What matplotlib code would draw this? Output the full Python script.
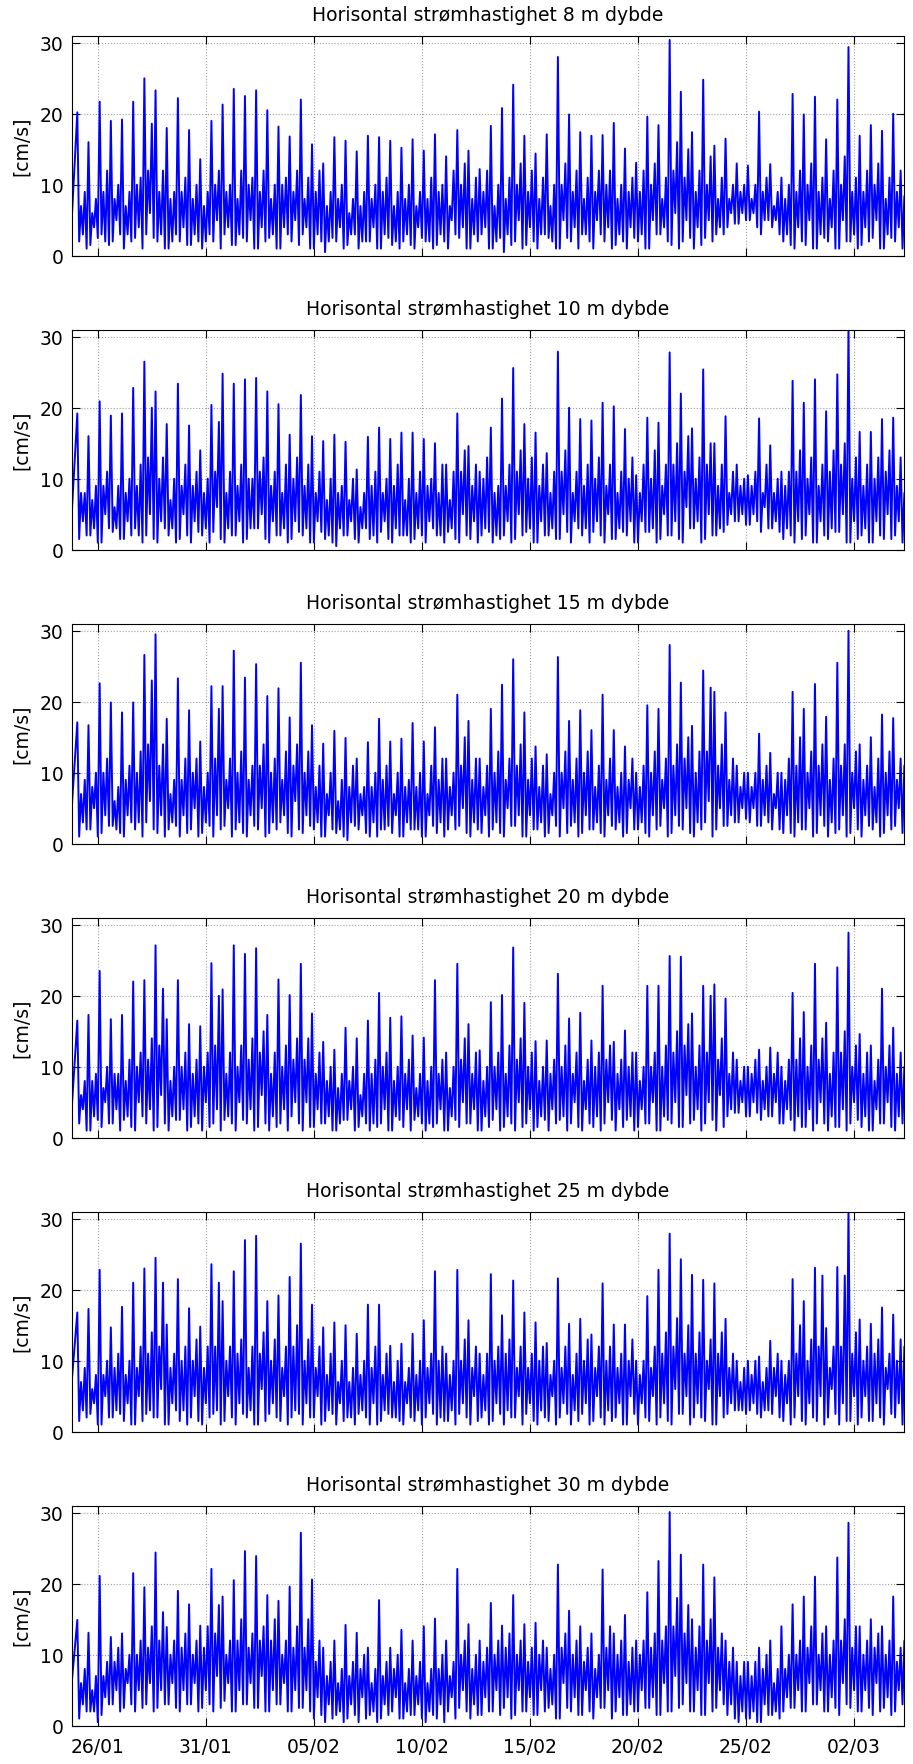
import matplotlib
matplotlib.use('Agg')
import matplotlib.pyplot as plt
from datetime import datetime, timedelta

# ---------------- data ----------------
DEPTHS = [8, 10, 15, 20, 25, 30]
T_START = datetime(2013, 1, 24, 19, 6)
T_END = datetime(2013, 3, 4, 8, 0)
FIRST_PEAK = datetime(2013, 1, 25, 1, 20)
CYCLE_HOURS = 12.42
XTICK_DATES = [datetime(2013, 1, 26), datetime(2013, 1, 31), datetime(2013, 2, 5),
               datetime(2013, 2, 10), datetime(2013, 2, 15), datetime(2013, 2, 20),
               datetime(2013, 2, 25), datetime(2013, 3, 2)]
XTICK_LABELS = ['26/01', '31/01', '05/02', '10/02', '15/02', '20/02', '25/02', '02/03']
YTICKS = [0, 10, 20, 30]
START_VALUES = [5, 5, 5, 4, 7, 6]

# main tidal peaks per cycle
P1 = [20.2, 16.0, 21.7, 19.0, 19.2, 21.7, 25.0, 23.3, 18.0, 22.2,
      17.7, 13.6, 19.0, 21.3, 23.5, 22.5, 23.3, 20.5, 18.2, 16.8,
      22.0, 15.7, 13.0, 16.7, 16.2, 14.7, 16.9, 16.7, 16.2, 15.2,
      16.4, 14.8, 17.1, 14.0, 17.7, 14.8, 12.2, 18.3, 20.8, 24.1,
      16.9, 14.4, 17.1, 28.0, 19.9, 17.4, 16.9, 17.0, 18.7, 15.1,
      13.1, 19.6, 18.4, 30.4, 23.1, 17.4, 24.8, 15.5, 16.5, 13.0,
      12.7, 20.3, 12.9, 11.0, 22.8, 19.9, 22.4, 16.4, 22.0, 29.4,
      16.9, 18.4, 17.6, 20.0, 8.4]
P2 = [19.2, 16.0, 20.9, 18.9, 19.2, 22.8, 26.5, 22.3, 17.7, 23.4,
      17.5, 14.0, 20.4, 24.8, 23.4, 24.0, 24.2, 22.3, 20.5, 16.2,
      21.8, 16.0, 15.3, 16.2, 15.2, 11.3, 15.9, 17.2, 15.6, 16.5,
      16.5, 15.6, 15.0, 12.0, 19.2, 14.6, 11.0, 17.2, 21.3, 25.6,
      17.7, 16.5, 13.6, 27.9, 20.0, 18.4, 18.2, 20.7, 20.2, 17.0,
      10.5, 18.6, 17.9, 27.8, 22.0, 17.1, 25.4, 15.0, 18.8, 12.0,
      10.5, 18.5, 14.7, 11.0, 23.8, 20.7, 24.0, 19.5, 24.7, 31.5,
      16.6, 16.6, 18.4, 18.6, 8.0]
P3 = [17.1, 16.7, 22.6, 19.9, 18.5, 19.9, 26.6, 29.5, 17.6, 23.3,
      18.8, 14.4, 22.2, 22.2, 27.2, 23.4, 25.3, 20.8, 21.9, 17.8,
      25.5, 16.7, 14.1, 15.9, 14.9, 12.0, 14.3, 17.6, 14.4, 14.8,
      17.0, 14.4, 16.4, 12.0, 21.0, 17.3, 12.0, 19.0, 22.4, 26.0,
      18.5, 13.7, 12.6, 26.3, 17.3, 18.8, 16.0, 21.0, 16.0, 13.7,
      10.0, 19.5, 19.0, 28.0, 22.7, 16.6, 24.4, 21.4, 18.5, 11.0,
      10.0, 15.5, 12.8, 10.0, 21.4, 19.0, 22.5, 17.9, 25.5, 30.0,
      14.0, 15.0, 18.2, 17.7, 11.0]
P4 = [16.5, 17.3, 23.5, 16.7, 17.3, 22.0, 22.2, 27.1, 16.7, 22.2,
      16.0, 15.7, 24.6, 20.9, 27.1, 25.9, 26.7, 17.3, 22.3, 20.1,
      24.5, 17.5, 13.5, 12.4, 15.5, 14.0, 16.5, 20.4, 16.9, 17.1,
      14.4, 14.1, 22.2, 12.0, 24.5, 16.0, 12.3, 19.1, 20.1, 26.8,
      19.0, 13.6, 13.7, 23.1, 16.8, 17.6, 13.7, 21.4, 13.5, 15.1,
      12.0, 21.4, 21.4, 25.6, 25.5, 17.5, 21.4, 21.6, 19.6, 11.0,
      10.0, 12.4, 12.7, 10.0, 20.4, 17.7, 24.5, 16.2, 24.0, 28.9,
      14.6, 13.0, 21.0, 15.5, 10.0]
P5 = [16.8, 17.3, 22.8, 14.7, 17.6, 21.0, 23.0, 24.5, 15.1, 21.5,
      17.4, 14.8, 23.6, 18.4, 22.6, 27.0, 27.6, 18.4, 19.2, 21.8,
      26.5, 17.9, 14.7, 15.4, 15.0, 13.8, 17.9, 17.9, 12.1, 12.4,
      13.8, 15.7, 22.6, 11.0, 22.8, 15.7, 11.0, 22.2, 16.4, 21.3,
      16.8, 15.4, 12.5, 21.6, 15.2, 15.9, 13.7, 20.9, 15.1, 15.1,
      10.0, 19.1, 22.8, 27.9, 24.3, 22.1, 21.4, 20.9, 15.9, 10.0,
      10.0, 10.6, 12.8, 10.0, 21.5, 18.4, 23.1, 14.6, 23.2, 31.5,
      15.8, 15.2, 17.5, 16.5, 12.0]
P6 = [14.9, 13.1, 21.1, 12.5, 13.0, 21.5, 19.5, 24.4, 13.9, 19.0,
      17.1, 14.1, 22.1, 18.2, 20.5, 24.6, 23.9, 18.4, 17.6, 19.6,
      27.2, 20.6, 11.0, 12.0, 14.2, 13.1, 11.0, 17.7, 11.0, 13.5,
      12.0, 14.0, 15.1, 12.0, 22.1, 14.3, 12.0, 17.3, 14.1, 18.4,
      14.3, 14.5, 11.0, 22.7, 16.2, 14.0, 13.0, 22.0, 13.0, 15.6,
      12.0, 18.8, 23.2, 30.1, 24.1, 15.0, 22.7, 20.9, 12.0, 9.0,
      9.0, 11.0, 12.0, 14.0, 17.1, 18.2, 21.0, 14.0, 23.7, 28.6,
      14.0, 15.0, 14.0, 18.2, 12.0]

# secondary peaks per cycle
S1 = [9, 8, 12, 10, 9, 11, 18.6, 12, 9, 11,
      10, 9, 12, 10, 12, 11, 12, 10, 11, 12,
      11, 12, 9, 10, 8, 9, 10, 11, 9, 10,
      9, 11, 10, 12, 13, 11, 12, 10, 11, 13,
      12, 11, 10, 13, 12, 11, 12, 12, 10, 11,
      12, 13, 11, 16, 15, 12, 14, 11, 10, 10,
      10, 11, 9, 10, 12, 13, 11, 12, 14, 11,
      12, 13, 11, 12, 10]
S2 = [8, 9, 11, 9, 10, 12, 20, 13, 10, 12,
      11, 10, 18, 11, 12, 10, 13, 11, 12, 13,
      12, 11, 10, 9, 10, 8, 11, 10, 12, 10,
      11, 10, 12, 11, 14, 12, 13, 9, 12, 14,
      13, 12, 11, 14, 11, 12, 13, 12, 11, 13,
      12, 14, 12, 15, 16, 13, 15, 12, 11, 10,
      11, 12, 10, 11, 14, 13, 12, 14, 15, 13,
      12, 13, 14, 13, 10]
S3 = [9, 10, 12, 8, 11, 13, 23, 14, 9, 12,
      12, 10, 19, 12, 13, 11, 14, 12, 13, 14,
      13, 11, 10, 9, 11, 8, 10, 11, 10, 9,
      10, 11, 12, 10, 15, 12, 11, 13, 12, 14,
      12, 11, 10, 13, 12, 13, 11, 12, 10, 12,
      11, 13, 12, 14, 15, 13, 22, 14, 12, 10,
      10, 11, 10, 12, 15, 13, 14, 12, 14, 13,
      11, 12, 13, 12, 11]
S4 = [8, 9, 10, 9, 11, 12, 14, 21, 10, 12,
      11, 12, 20, 12, 13, 14, 15, 12, 13, 14,
      14, 12, 10, 9, 10, 9, 11, 12, 10, 11,
      9, 10, 11, 10, 14, 12, 10, 12, 13, 14,
      12, 10, 11, 13, 12, 11, 12, 13, 11, 12,
      10, 12, 13, 15, 16, 13, 20, 14, 12, 10,
      11, 10, 12, 11, 14, 13, 14, 12, 15, 13,
      12, 11, 13, 12, 10]
S5 = [9, 8, 10, 11, 10, 12, 14, 21, 11, 12,
      13, 12, 21, 12, 13, 12, 14, 13, 12, 15,
      13, 12, 11, 10, 9, 10, 12, 11, 10, 9,
      10, 11, 12, 10, 13, 12, 11, 12, 13, 12,
      11, 12, 10, 12, 11, 13, 12, 12, 11, 13,
      10, 12, 14, 16, 15, 14, 13, 14, 11, 9,
      10, 9, 11, 10, 15, 13, 22, 12, 22, 14,
      12, 13, 11, 13, 12]
S6 = [8, 7, 9, 11, 10, 12, 14, 16, 12, 13,
      12, 14, 17, 12, 15, 13, 14, 15, 12, 14,
      15, 12, 9, 8, 9, 10, 8, 9, 10, 8,
      9, 8, 10, 9, 12, 10, 11, 12, 13, 12,
      11, 12, 10, 13, 12, 11, 10, 14, 12, 11,
      12, 13, 14, 18, 17, 14, 15, 13, 11, 9,
      9, 10, 8, 10, 12, 14, 13, 12, 15, 14,
      12, 13, 12, 11, 10]

# troughs after main peak
A1 = [2, 1.5, 3, 2, 1, 2.5, 3, 2, 1, 2,
      1.5, 1, 2, 3, 1.5, 2, 1, 2.5, 1, 2,
      3, 1, 0.5, 2, 1.5, 1, 2, 1, 1.5, 2,
      1, 2, 1.5, 1, 2.5, 1, 3, 1, 0.5, 2,
      1.5, 1, 2.5, 1, 2, 3, 1, 2, 1.5, 1,
      2, 1, 3, 1.5, 2, 1, 2.5, 3, 4, 4.5,
      5, 3, 4, 2, 1, 1.5, 1, 2, 1, 2,
      1.5, 2.5, 1, 2, 1]
A2 = [1.5, 2, 1, 2.5, 1.5, 3, 2, 1, 2, 1.5,
      1, 2, 2.5, 1, 2, 1.5, 3, 1, 2, 1.5,
      2, 1, 1.5, 0.5, 2, 1, 1.5, 2.5, 1, 2,
      1.5, 1, 2, 2.5, 1, 1.5, 2, 1, 2, 1.5,
      2.5, 1, 2, 1.5, 1, 2, 2.5, 1, 1.5, 2,
      1, 2.5, 1.5, 2, 1, 3, 1.5, 2, 3.5, 4,
      3.5, 2.5, 3, 1.5, 1, 2, 1, 1.5, 2.5, 1,
      2, 1, 1.5, 2, 1.5]
A3 = [1, 2, 1.5, 2.5, 1, 2, 3, 1.5, 2, 1,
      2, 1.5, 1, 2.5, 2, 1, 2, 1.5, 3, 1,
      1.5, 2, 1, 1.5, 0.5, 2, 1, 2, 1.5, 1,
      2, 1, 1.5, 2, 2.5, 1, 1.5, 2, 1, 2.5,
      1, 2, 1.5, 1, 2.5, 1.5, 2, 1, 2, 1.5,
      2, 1, 2.5, 1.5, 2, 1, 3, 2, 2.5, 3,
      3, 2.5, 2, 1.5, 1, 2, 1.5, 1, 2, 1.5,
      1, 2, 1.5, 2.5, 1]
A4 = [2, 1, 1.5, 2, 2.5, 1, 2, 1.5, 1, 2.5,
      1.5, 1, 2, 2.5, 1, 2, 1.5, 1, 2, 3,
      1, 1.5, 2, 1, 2.5, 1.5, 1, 2, 1, 1.5,
      2.5, 1, 2, 1, 1.5, 2, 1, 2.5, 1.5, 1,
      2, 1.5, 1, 2.5, 2, 1, 1.5, 2, 1, 2.5,
      1.5, 2, 1, 2, 1.5, 2.5, 2, 1, 3, 3.5,
      3, 2.5, 3, 2, 1, 1.5, 2, 1, 1.5, 2,
      1.5, 1, 2, 1, 2]
A5 = [1.5, 2.5, 1, 2, 1.5, 1, 2.5, 2, 1, 1.5,
      2, 1, 2.5, 1.5, 1, 2, 1, 2.5, 1.5, 2,
      1, 2, 1.5, 1, 2, 2.5, 1, 1.5, 2, 1,
      1.5, 2, 1, 1.5, 2.5, 1, 2, 1.5, 1, 2,
      2.5, 1, 1.5, 2, 1, 2.5, 1.5, 1, 2, 1,
      1, 1.5, 2, 1, 2.5, 2, 1.5, 1, 2.5, 3,
      3, 2, 2.5, 1.5, 2, 1, 1.5, 2, 1, 1.5,
      2, 1.5, 1, 2, 1.5]
A6 = [1, 2, 1.5, 3, 2.5, 2, 3, 2.5, 3, 2,
      3, 2.5, 2, 3.5, 2, 3, 2.5, 2, 3, 2,
      2.5, 1, 0.5, 1.5, 1, 0.5, 1.5, 1, 2, 1,
      1.5, 0.5, 1, 2, 2.5, 1, 1.5, 2, 2.5, 1.5,
      2, 1.5, 2.5, 1, 2, 1.5, 1, 2.5, 2, 1.5,
      2, 2.5, 1.5, 2, 3, 2, 1.5, 2.5, 1.5, 0.5,
      1, 0.5, 1.5, 2, 2.5, 2, 3, 2, 1.5, 2.5,
      2, 1.5, 2.5, 2, 3]

# mid-level wiggle after the first trough
C1 = [7, 6, 9, 8, 7, 10, 12, 9, 8, 9,
      8, 7, 10, 9, 8, 10, 9, 8, 10, 9,
      8, 9, 7, 8, 6, 7, 8, 9, 7, 8,
      7, 8, 9, 7, 10, 8, 9, 7, 8, 10,
      9, 8, 7, 10, 9, 8, 9, 10, 8, 9,
      9, 10, 8, 12, 11, 9, 10, 8, 8, 9,
      8, 9, 7, 8, 9, 10, 9, 8, 10, 9,
      9, 10, 8, 9, 7]
C2 = [8, 7, 9, 6, 8, 9, 13, 10, 7, 9,
      9, 8, 11, 8, 9, 10, 11, 9, 8, 10,
      9, 8, 7, 8, 7, 6, 9, 8, 9, 7,
      8, 9, 8, 7, 11, 9, 10, 8, 9, 11,
      10, 9, 8, 11, 8, 9, 10, 9, 8, 10,
      8, 10, 9, 12, 11, 10, 12, 9, 8, 9,
      9, 8, 8, 9, 11, 10, 9, 11, 12, 10,
      9, 10, 11, 9, 8]
C3 = [7, 8, 10, 6, 9, 10, 14, 11, 7, 9,
      10, 8, 12, 9, 10, 9, 11, 10, 9, 11,
      10, 8, 7, 6, 8, 7, 8, 9, 7, 8,
      8, 7, 9, 8, 11, 9, 8, 10, 9, 11,
      9, 8, 7, 10, 9, 10, 8, 9, 8, 9,
      8, 10, 9, 11, 12, 10, 13, 11, 9, 8,
      8, 9, 7, 9, 11, 10, 11, 9, 11, 10,
      9, 8, 10, 9, 8]
C4 = [6, 8, 7, 9, 8, 10, 11, 13, 8, 10,
      9, 10, 13, 9, 10, 11, 12, 9, 10, 11,
      11, 9, 8, 7, 8, 6, 9, 10, 8, 9,
      7, 8, 9, 7, 11, 9, 8, 10, 9, 11,
      10, 8, 9, 10, 9, 8, 10, 11, 9, 10,
      8, 10, 10, 12, 13, 10, 12, 11, 9, 8,
      9, 8, 9, 8, 11, 10, 11, 9, 12, 10,
      9, 8, 10, 9, 8]
C5 = [7, 6, 8, 9, 8, 9, 11, 12, 9, 10,
      10, 9, 12, 10, 11, 9, 11, 10, 9, 12,
      10, 9, 8, 7, 7, 8, 9, 8, 7, 7,
      8, 9, 10, 8, 10, 9, 8, 10, 11, 9,
      9, 10, 8, 9, 8, 10, 9, 10, 9, 10,
      8, 9, 11, 12, 11, 11, 10, 11, 9, 7,
      8, 7, 9, 8, 11, 10, 12, 9, 12, 11,
      10, 11, 9, 10, 9]
C6 = [6, 5, 7, 9, 8, 10, 11, 12, 10, 11,
      10, 11, 13, 10, 12, 11, 12, 12, 10, 11,
      11, 9, 7, 6, 7, 8, 6, 7, 8, 6,
      7, 6, 8, 7, 10, 8, 9, 10, 11, 10,
      9, 10, 8, 11, 10, 9, 8, 11, 10, 9,
      10, 11, 12, 14, 13, 11, 12, 11, 9, 7,
      7, 8, 6, 8, 10, 11, 10, 10, 12, 11,
      10, 11, 10, 9, 9]

# low-mid dip before the secondary peak
D1 = [3, 4, 2, 5, 3, 4, 6, 3, 2, 4,
      3, 2, 5, 4, 3, 5, 4, 3, 4, 5,
      4, 3, 2, 4, 3, 2, 4, 3, 2, 3,
      4, 2, 3, 5, 4, 3, 4, 2, 3, 5,
      4, 3, 2, 5, 4, 3, 5, 4, 3, 4,
      3, 5, 4, 6, 5, 4, 5, 4, 6, 6,
      6, 5, 5, 3, 4, 5, 3, 4, 5, 3,
      4, 5, 3, 4, 3]
D2 = [4, 3, 5, 3, 4, 2, 5, 4, 3, 5,
      4, 3, 6, 3, 4, 3, 5, 4, 3, 4,
      3, 4, 2, 3, 4, 3, 2, 4, 3, 2,
      3, 4, 2, 3, 5, 4, 3, 2, 4, 5,
      3, 4, 3, 5, 4, 3, 4, 5, 3, 4,
      4, 3, 5, 4, 6, 4, 5, 3, 5, 5,
      5, 6, 4, 3, 4, 5, 4, 3, 5, 4,
      3, 4, 5, 4, 3]
D3 = [3, 5, 4, 2, 4, 3, 6, 4, 3, 4,
      5, 3, 4, 5, 3, 4, 5, 3, 4, 6,
      4, 3, 4, 2, 3, 4, 3, 2, 4, 3,
      2, 4, 3, 4, 5, 3, 4, 3, 5, 4,
      4, 3, 4, 5, 3, 4, 3, 4, 3, 5,
      3, 4, 5, 4, 5, 3, 6, 5, 4, 5,
      5, 4, 5, 4, 3, 5, 4, 3, 4, 5,
      4, 3, 4, 5, 3]
D4 = [4, 3, 5, 4, 3, 5, 4, 6, 3, 4,
      3, 5, 4, 3, 5, 4, 6, 3, 4, 5,
      5, 4, 3, 2, 4, 3, 2, 4, 3, 4,
      3, 2, 4, 3, 5, 4, 3, 4, 3, 5,
      4, 3, 4, 3, 5, 4, 3, 5, 4, 3,
      4, 5, 3, 5, 6, 4, 5, 6, 4, 5,
      5, 4, 5, 4, 3, 4, 5, 3, 4, 5,
      3, 4, 5, 3, 4]
D5 = [3, 4, 5, 3, 4, 5, 3, 6, 4, 3,
      5, 4, 3, 5, 4, 3, 6, 4, 5, 3,
      4, 5, 3, 4, 2, 3, 4, 3, 2, 4,
      3, 4, 2, 3, 4, 5, 3, 4, 3, 5,
      4, 3, 5, 4, 3, 4, 5, 3, 4, 5,
      4, 5, 4, 6, 5, 4, 6, 5, 4, 3,
      4, 3, 5, 4, 5, 4, 5, 6, 4, 5,
      5, 4, 6, 4, 5]
D6 = [3, 2, 4, 5, 6, 5, 6, 5, 6, 5,
      6, 5, 7, 6, 5, 6, 7, 5, 6, 5,
      5, 4, 3, 2, 3, 4, 2, 3, 4, 2,
      3, 2, 3, 4, 5, 3, 4, 5, 4, 5,
      4, 5, 3, 6, 4, 5, 4, 5, 4, 3,
      5, 4, 6, 7, 6, 5, 6, 5, 3, 2,
      2, 3, 2, 4, 5, 6, 5, 4, 6, 5,
      5, 6, 4, 5, 6]

# troughs before next main peak
B1 = [1, 2.5, 1.5, 3, 2, 1, 2.5, 1, 3, 1.5,
      2, 3, 1, 1.5, 2.5, 1, 2, 1, 3, 1.5,
      1, 2, 2.5, 1, 3, 2, 1, 2.5, 1, 1.5,
      2.5, 1, 2, 3, 1, 2, 1, 2.5, 1.5, 1,
      2, 3, 1, 2.5, 1, 2, 3, 1, 2, 2.5,
      1, 3, 2, 1, 2.5, 1.5, 2, 3, 4.5, 5,
      4, 5, 3, 1.5, 2, 1, 2.5, 1, 2, 1,
      2, 1, 2.5, 1, 2]
B2 = [2, 1, 3, 1.5, 2, 1, 1.5, 3, 1, 2,
      2.5, 1, 1.5, 2, 1, 3, 1.5, 2, 1, 2.5,
      1, 2.5, 1, 2, 1.5, 3, 1, 1.5, 2, 1,
      2, 3, 1, 1.5, 2, 1, 2.5, 1.5, 1, 2,
      1, 2, 1.5, 2.5, 3, 1, 2, 1.5, 2.5, 1,
      2.5, 1, 2, 1.5, 3, 1, 2, 2.5, 4, 3.5,
      4, 3, 2.5, 2, 1.5, 1, 2, 2.5, 1, 1.5,
      1, 2, 1.5, 1, 2]
B3 = [2, 1, 2.5, 1.5, 3, 1, 2, 1, 2.5, 1.5,
      1, 2.5, 2, 1, 1.5, 2.5, 1, 2, 1.5, 2,
      2.5, 1, 2, 1, 2.5, 1.5, 1, 2.5, 1, 2,
      1, 2.5, 1, 2, 1.5, 2, 1, 1.5, 2.5, 1,
      2, 1, 2.5, 1.5, 1, 2, 1.5, 2.5, 1, 2,
      1.5, 2, 1, 2.5, 1.5, 2, 1, 2.5, 3, 3.5,
      2.5, 3, 2, 1.5, 2, 1, 2.5, 1.5, 1, 2,
      2.5, 1, 2, 1.5, 2]
B4 = [1, 2.5, 2, 1, 1.5, 3, 1, 2, 2.5, 1,
      2, 1.5, 1, 2, 2.5, 1, 2, 1.5, 1, 2,
      1.5, 2, 1, 2.5, 1, 2, 1.5, 1, 2.5, 1,
      2, 1.5, 1, 2.5, 2, 1, 1.5, 1, 2, 1.5,
      1, 2.5, 2, 1, 1.5, 2, 1, 2.5, 1.5, 1,
      2, 1, 2.5, 1.5, 2, 1, 2.5, 1.5, 3.5, 3,
      3.5, 3, 2, 2.5, 1.5, 1, 2, 1.5, 1, 2.5,
      1, 2, 1.5, 2, 1]
B5 = [2, 1, 2, 2.5, 1, 1.5, 2, 1, 3, 1,
      1.5, 2, 1, 2, 2.5, 1, 1.5, 2, 1, 2.5,
      2, 1, 2.5, 1.5, 1, 2, 1, 2.5, 1.5, 2,
      1, 2.5, 1.5, 1, 2, 1.5, 1, 2.5, 2, 1,
      1.5, 2, 1, 2.5, 1.5, 1, 2, 1.5, 1, 2.5,
      2, 1, 1.5, 2.5, 1, 2, 1, 2, 3, 2.5,
      2.5, 3, 2, 1, 1.5, 2, 1, 2.5, 1.5, 1,
      1.5, 2, 2.5, 1, 2]
B6 = [2, 0.5, 3, 2, 3, 2.5, 2, 3, 2.5, 3,
      2, 3, 2.5, 2, 3, 2.5, 2, 3, 2, 2.5,
      2, 1.5, 1, 0.5, 1.5, 1, 0.5, 1.5, 1, 1.5,
      1, 1.5, 0.5, 1, 2, 1.5, 2, 1.5, 1, 2,
      1.5, 2, 1, 2.5, 1.5, 2, 2.5, 1, 1.5, 2,
      2.5, 1.5, 2, 2.5, 2, 1.5, 2, 3, 1, 1,
      0.5, 1.5, 1, 2.5, 2, 3, 2, 2.5, 3, 2,
      2.5, 2, 1.5, 3, 2]

PEAKS = [P1, P2, P3, P4, P5, P6]
TROUGH_A = [A1, A2, A3, A4, A5, A6]
MID_C = [C1, C2, C3, C4, C5, C6]
DIP_D = [D1, D2, D3, D4, D5, D6]
SECOND = [S1, S2, S3, S4, S5, S6]
TROUGH_B = [B1, B2, B3, B4, B5, B6]


def build_series(i):
    """Six readings per tidal cycle: peak, trough, mid, dip, secondary, trough."""
    groups = (PEAKS[i], TROUGH_A[i], MID_C[i], DIP_D[i], SECOND[i], TROUGH_B[i])
    times = [T_START]
    vals = [START_VALUES[i]]
    step = CYCLE_HOURS / len(groups)
    for k in range(len(PEAKS[i])):
        tp = FIRST_PEAK + timedelta(hours=k * CYCLE_HOURS)
        for j, g in enumerate(groups):
            times.append(tp + timedelta(hours=j * step))
            vals.append(g[k])
    return times, vals


# ---------------- figure ----------------
W, H = 913, 1765
fig = plt.figure(figsize=(W / 100, H / 100), dpi=100)
left = 71.7 / W
width = (904 - 71.7) / W
ax_h = 220 / H

for i, depth in enumerate(DEPTHS):
    top_px = 36.7 + 294 * i
    bottom = 1 - (top_px + 220) / H
    ax = fig.add_axes([left, bottom, width, ax_h])
    t, v = build_series(i)
    ax.plot(t, v, color=(0, 0, 1), linewidth=1.4)
    ax.set_xlim(T_START, T_END)
    ax.set_ylim(0, 31)
    ax.set_yticks(YTICKS)
    ax.set_xticks(XTICK_DATES)
    if i == len(DEPTHS) - 1:
        ax.set_xticklabels(XTICK_LABELS)
    else:
        ax.set_xticklabels([])
    ax.grid(True, linestyle=':', color='#a0a0a0', linewidth=0.8)
    ax.tick_params(direction='in', length=6, width=0.8, top=True, right=True,
                   labelsize=13.5, pad=6)
    ax.tick_params(axis='x', pad=8)
    for s in ax.spines.values():
        s.set_linewidth(0.8)
    ax.set_ylabel('[cm/s]', fontsize=13.5, labelpad=6)
    ax.set_title(f'Horisontal strømhastighet {depth} m dybde', fontsize=13.5, pad=11)

fig.savefig('out.png', dpi=100)
